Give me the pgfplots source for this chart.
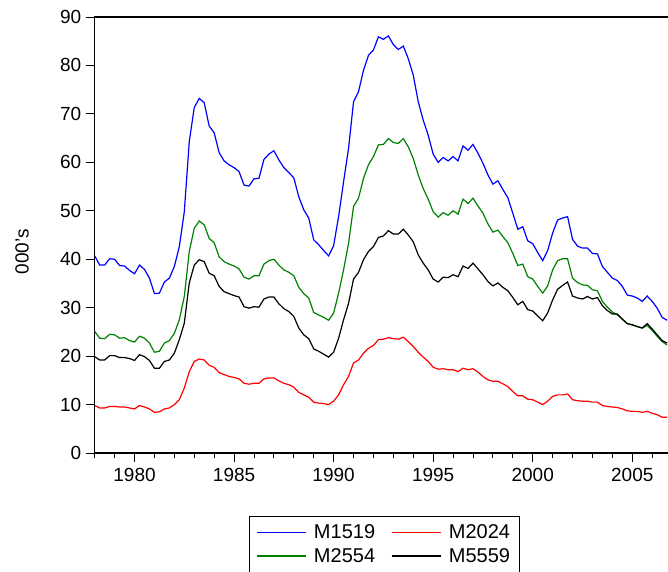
\documentclass[border=0pt]{standalone}
\usepackage{fontspec}
\setmainfont{Liberation Sans}
\usepackage{pgfplots}
\usepackage{pgfplotstable}
\pgfplotsset{compat=1.18}

% quarterly series, thousands
\pgfplotstableread{
t       m1519 m2024 m2554 m5559
1978.00 40.7  9.8   25.1  19.9
1978.25 38.8  9.3   23.7  19.2
1978.50 38.8  9.3   23.6  19.2
1978.75 40.1  9.6   24.5  20.1
1979.00 40.0  9.6   24.4  20.1
1979.25 38.7  9.5   23.7  19.7
1979.50 38.6  9.5   23.8  19.7
1979.75 37.7  9.3   23.2  19.5
1980.00 37.0  9.1   22.9  19.1
1980.25 38.8  9.8   24.1  20.3
1980.50 37.9  9.5   23.7  19.9
1980.75 36.1  9.1   22.7  19.1
1981.00 32.9  8.4   20.8  17.5
1981.25 33.0  8.5   21.0  17.5
1981.50 35.3  9.1   22.7  18.9
1981.75 36.1  9.3   23.2  19.2
1982.00 38.5  10.0  24.7  20.6
1982.25 42.6  11.0  27.5  23.4
1982.50 49.8  13.4  32.3  26.8
1982.75 64.3  16.8  41.6  35.1
1983.00 71.3  18.9  46.4  38.8
1983.25 73.2  19.4  47.9  39.9
1983.50 72.3  19.2  47.1  39.5
1983.75 67.5  18.1  44.3  37.1
1984.00 66.1  17.7  43.4  36.6
1984.25 62.0  16.6  40.5  34.4
1984.50 60.3  16.2  39.5  33.3
1984.75 59.5  15.8  39.0  32.9
1985.00 58.9  15.6  38.6  32.5
1985.25 58.1  15.3  38.0  32.2
1985.50 55.3  14.4  36.3  30.2
1985.75 55.1  14.2  35.9  29.9
1986.00 56.6  14.4  36.6  30.2
1986.25 56.7  14.4  36.6  30.1
1986.50 60.6  15.3  39.0  31.8
1986.75 61.7  15.5  39.7  32.2
1987.00 62.4  15.5  40.0  32.2
1987.25 60.5  14.9  38.8  30.8
1987.50 58.9  14.4  37.8  29.8
1987.75 57.9  14.1  37.3  29.2
1988.00 56.8  13.6  36.6  28.2
1988.25 52.9  12.5  34.2  25.8
1988.50 50.2  12.0  32.9  24.4
1988.75 48.5  11.5  32.0  23.6
1989.00 44.0  10.5  29.0  21.5
1989.25 43.0  10.3  28.5  21.0
1989.50 41.8  10.2  28.0  20.4
1989.75 40.7  10.0  27.4  19.8
1990.00 42.8  10.7  28.9  20.8
1990.25 48.8  12.0  33.0  23.7
1990.50 56.0  14.1  37.8  27.5
1990.75 62.9  15.8  43.3  30.9
1991.00 72.5  18.6  50.9  35.9
1991.25 74.6  19.2  52.6  37.3
1991.50 79.0  20.6  56.7  39.9
1991.75 82.1  21.6  59.5  41.6
1992.00 83.2  22.2  61.2  42.6
1992.25 85.9  23.4  63.6  44.5
1992.50 85.4  23.5  63.7  44.8
1992.75 86.1  23.8  64.9  45.9
1993.00 84.3  23.6  64.1  45.2
1993.25 83.3  23.5  63.9  45.2
1993.50 84.0  23.9  64.9  46.2
1993.75 81.4  23.0  63.2  45.0
1994.00 78.0  22.0  60.8  43.6
1994.25 72.5  20.8  57.4  40.9
1994.50 68.7  19.8  54.6  39.2
1994.75 65.6  18.9  52.4  37.8
1995.00 61.7  17.7  49.8  35.9
1995.25 60.0  17.3  48.7  35.3
1995.50 61.0  17.4  49.6  36.3
1995.75 60.3  17.2  49.1  36.2
1996.00 61.2  17.2  50.0  36.8
1996.25 60.3  16.8  49.3  36.4
1996.50 63.4  17.5  52.4  38.6
1996.75 62.5  17.2  51.5  38.1
1997.00 63.7  17.4  52.6  39.2
1997.25 61.9  16.7  51.0  38.0
1997.50 59.8  15.8  49.5  36.8
1997.75 57.4  15.1  47.3  35.4
1998.00 55.5  14.8  45.6  34.5
1998.25 56.2  14.8  46.0  35.1
1998.50 54.4  14.3  44.7  34.2
1998.75 52.7  13.7  43.4  33.5
1999.00 49.5  12.7  41.2  32.1
1999.25 46.2  11.8  38.7  30.6
1999.50 46.7  11.8  39.0  31.3
1999.75 43.8  11.1  36.4  29.6
2000.00 43.2  11.0  35.9  29.3
2000.25 41.4  10.5  34.4  28.3
2000.50 39.7  10.0  33.0  27.3
2000.75 41.8  10.7  34.5  28.9
2001.00 45.4  11.7  37.8  31.6
2001.25 48.1  12.0  39.7  33.8
2001.50 48.5  12.0  40.1  34.6
2001.75 48.8  12.2  40.1  35.3
2002.00 44.1  11.0  36.1  32.4
2002.25 42.7  10.8  35.2  32.0
2002.50 42.3  10.7  34.7  31.8
2002.75 42.3  10.7  34.6  32.3
2003.00 41.2  10.5  33.7  31.8
2003.25 41.1  10.5  33.5  32.1
2003.50 38.5  9.8   31.3  30.4
2003.75 37.3  9.6   30.1  29.4
2004.00 36.1  9.5   29.1  28.7
2004.25 35.6  9.4   28.5  28.7
2004.50 34.4  9.1   27.7  27.6
2004.75 32.6  8.7   26.7  26.7
2005.00 32.4  8.6   26.4  26.5
2005.25 32.0  8.6   26.1  26.1
2005.50 31.3  8.4   25.8  25.8
2005.75 32.4  8.6   26.3  26.7
2006.00 31.3  8.2   25.3  25.6
2006.25 29.9  7.9   24.1  24.4
2006.50 28.0  7.4   23.0  23.2
2006.75 27.4  7.4   22.3  22.7
}\seriesdata

\definecolor{evgreen}{RGB}{0,128,0}

\begin{document}
\begin{tikzpicture}[font=\fontsize{19}{22}\selectfont]
\begin{axis}[
  at={(94.7pt,-453pt)}, anchor=south west,
  scale only axis, width=574.4pt, height=436pt,
  xmin=1978, xmax=2006.85, ymin=0, ymax=90,
  ytick={0,10,...,90},
  xtick={1980,1985,...,2005},
  minor xtick={1978,...,2006},
  tick align=outside, xtick pos=left, ytick pos=left,
  major tick length=9pt, minor tick length=5pt,
  tick style={black, line width=0.9pt},
  axis line style={line width=1.1pt},
  /pgf/number format/assume math mode=true,
  xticklabel style={/pgf/number format/1000 sep={}, yshift=-3pt},
  yticklabel style={xshift=-1pt},
  legend columns=2,
  legend cell align=left,
  legend style={at={(0.2686,-0.1438)}, anchor=north west,
    font=\fontsize{20}{23}\selectfont,
    draw=black, inner xsep=7pt, inner ysep=7pt,
    row sep=4pt,
    /tikz/every odd column/.append style={column sep=5pt},
    /tikz/every even column/.append style={column sep=14pt}},
  legend image post style={xscale=2.9, line width=1.3pt},
]
\addplot[color=blue, line width=1.2pt] table[x=t, y=m1519] {\seriesdata};
\addlegendentry{M1519}
\addplot[color=red, line width=1.2pt] table[x=t, y=m2024] {\seriesdata};
\addlegendentry{M2024}
\addplot[color=evgreen, line width=1.2pt] table[x=t, y=m2554] {\seriesdata};
\addlegendentry{M2554}
\addplot[color=black, line width=1.2pt] table[x=t, y=m5559] {\seriesdata};
\addlegendentry{M5559}
\end{axis}
\node[rotate=90] at (22pt,-252pt) {000's};
\pgfresetboundingbox
\path (0pt,0pt) rectangle (668pt,-571pt);
\end{tikzpicture}
\end{document}
